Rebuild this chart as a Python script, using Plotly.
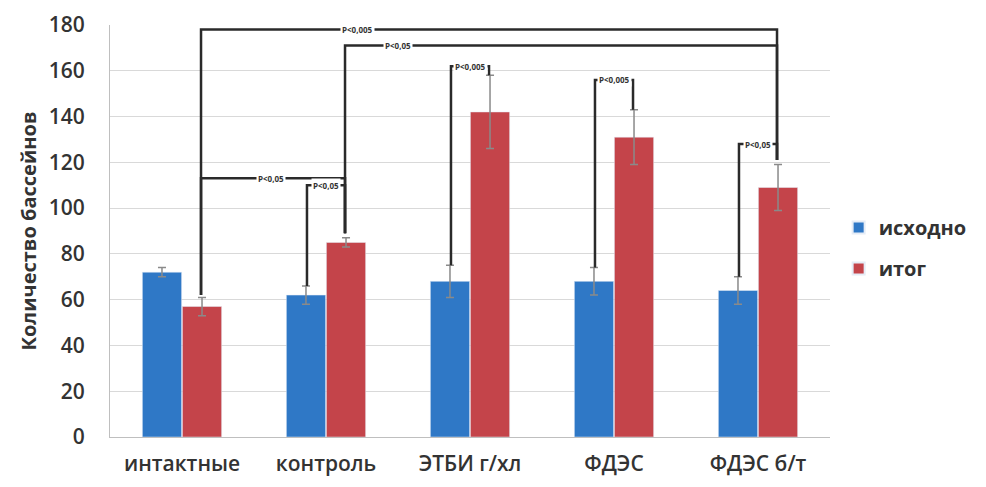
import plotly.graph_objects as go

categories = ["интактные", "контроль", "ЭТБИ г/хл", "ФДЭС", "ФДЭС б/т"]
series_names = ["исходно", "итог"]
initial_vals = [72, 62, 68, 68, 64]
final_vals = [57, 85, 142, 131, 109]
initial_err = [2, 4, 7, 6, 6]
final_err = [4, 2, 16, 12, 10]
y_ticks = [0, 20, 40, 60, 80, 100, 120, 140, 160, 180]

# significance brackets: (left cat, left series, left start, right cat, right series, right end, top, label, label x)
brackets = [
    (0, 1, 62, 4, 1, 121, 178, "P<0,005", 1.22),
    (1, 1, 89, 4, 1, 121, 171, "P<0,05", 1.50),
    (0, 1, 62, 1, 1, 89, 113, "P<0,05", 0.62),
    (1, 0, 66, 1, 1, 89, 110, "P<0,05", None),
    (2, 0, 75, 2, 1, 158, 162, "P<0,005", None),
    (3, 0, 74, 3, 1, 143, 156, "P<0,005", None),
    (4, 0, 70, 4, 1, 121, 128, "P<0,05", None),
]

BLUE = "#2F78C6"
RED = "#C4444A"
FONT = "Open Sans"
TXT = "#333333"

bargap = 0.444
bargroupgap = 0.02
half = (1 - bargap) / 4

fig = go.Figure()
fig.add_trace(go.Bar(
    name=f"<b>{series_names[0]}</b>", x=list(range(len(categories))), y=initial_vals,
    marker_color=BLUE, legendgroup="a",
    error_y=dict(type="data", array=initial_err, color="#8a8a8a", thickness=1.5, width=4),
))
fig.add_trace(go.Bar(
    name=f"<b>{series_names[1]}</b>", x=list(range(len(categories))), y=final_vals,
    marker_color=RED, legendgroup="b",
    error_y=dict(type="data", array=final_err, color="#8a8a8a", thickness=1.5, width=4),
))

def xpos(cat, s):
    return cat + (-half if s == 0 else half) * 0.95

for lc, ls, ly, rc, rs, ry, top, lab, lx in brackets:
    x0 = xpos(lc, ls)
    x1 = xpos(rc, rs)
    fig.add_shape(type="path",
                  path=f"M {x0} {ly} L {x0} {top} L {x1} {top} L {x1} {ry}",
                  line=dict(color="#2a2a2a", width=2.5), xref="x", yref="y")
    tx = (x0 + x1) / 2 if lx is None else lx
    fig.add_annotation(x=tx, y=top, text=f"<b>{lab}</b>", showarrow=False,
                       font=dict(size=8, color="#333333", family=FONT),
                       bgcolor="white", xref="x", yref="y", borderpad=1)

# page body has an 8px default margin; margins compensate so the plot lands where the reference has it
fig.update_layout(
    width=986, height=487,
    margin=dict(l=102, r=164, t=17, b=58, autoexpand=False),
    paper_bgcolor="white", plot_bgcolor="white",
    barmode="group", bargap=bargap, bargroupgap=bargroupgap,
    font=dict(family=FONT, color=TXT),
    legend=dict(x=1.012, y=0.459, yanchor="middle", xanchor="left",
                font=dict(size=20, color=TXT, family=FONT),
                itemsizing="constant", tracegroupgap=12, bgcolor="rgba(0,0,0,0)"),
    showlegend=True,
)
fig.update_xaxes(
    tickmode="array", tickvals=list(range(len(categories))), ticktext=categories,
    range=[-0.5, len(categories) - 0.5], showgrid=False, automargin=False,
    tickfont=dict(size=21, color=TXT, family=FONT, weight=600), ticklabelstandoff=8,
    showline=True, linecolor="#bfbfbf", linewidth=1, ticks="",
)
fig.update_yaxes(
    range=[0, 180], tickvals=y_ticks, showgrid=True, gridcolor="#d9d9d9", gridwidth=1,
    tickfont=dict(size=21, color=TXT, family=FONT, weight=600), ticklabelstandoff=20, automargin=False,
    title=dict(text="<b>Количество бассейнов</b>", font=dict(size=20, color=TXT, family=FONT), standoff=6),
    showline=True, linecolor="#bfbfbf", linewidth=1, zeroline=False, ticks="",
)

fig.write_html("out.html")
